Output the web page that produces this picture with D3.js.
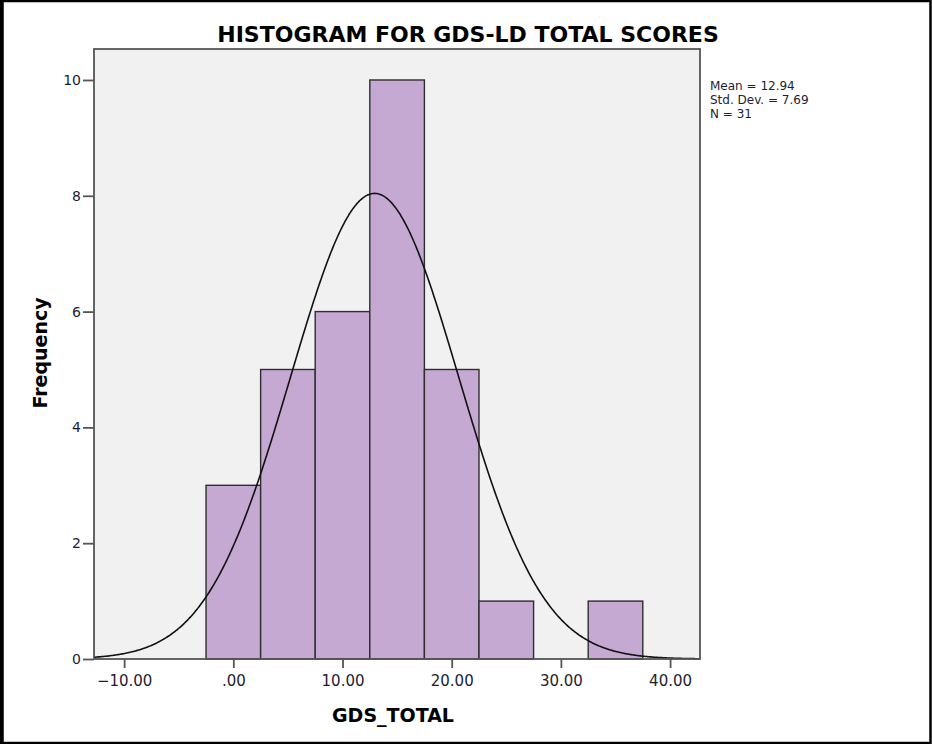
<!DOCTYPE html>
<html>
<head>
<meta charset="utf-8">
<script src="https://cdn.jsdelivr.net/npm/d3@7"></script>
<style>
  html, body { margin: 0; padding: 0; background: #fff; }
  svg { display: block; }
</style>
</head>
<body>
<svg id="chart" width="932" height="744"></svg>
<script>
// Histogram bins (lower edge, upper edge) and frequencies
const binStarts = [-2.5, 2.5, 7.5, 12.5, 17.5, 22.5, 27.5, 32.5];
const binEnds   = [2.5, 7.5, 12.5, 17.5, 22.5, 27.5, 32.5, 37.5];
const counts    = [3, 5, 6, 10, 5, 1, 0, 1];

const xTicks = [-10, 0, 10, 20, 30, 40];
const yTicks = [0, 2, 4, 6, 8, 10];

const stats = { mean: 12.94, sd: 7.69, n: 31 };
const statLines = ["Mean = 12.94", "Std. Dev. = 7.69", "N = 31"];

const svg = d3.select("#chart");
const W = 932, H = 744;

// outer frame
svg.append("rect").attr("x", 0).attr("y", 0).attr("width", W).attr("height", H).attr("fill", "#fff");
svg.append("rect").attr("x", 2.5).attr("y", 1).attr("width", W - 4).attr("height", H - 2)
  .attr("fill", "none").attr("stroke", "#000").attr("stroke-width", 2.5);
svg.append("line").attr("x1", 0).attr("x2", 0).attr("y1", 0).attr("y2", H)
  .attr("stroke", "#000").attr("stroke-width", 4);

const plot = { left: 94, right: 700, top: 49, bottom: 659 };

const x = d3.scaleLinear().domain([-12.76, 42.74]).range([plot.left, plot.right]);
const y = d3.scaleLinear().domain([0, 10.535]).range([plot.bottom, plot.top]);

// plot background
svg.append("rect")
  .attr("x", plot.left).attr("y", plot.top)
  .attr("width", plot.right - plot.left).attr("height", plot.bottom - plot.top)
  .attr("fill", "#f1f1f1");

// bars
const bins = counts.map((c, i) => ({ x0: binStarts[i], x1: binEnds[i], c }));
svg.append("g").selectAll("rect").data(bins.filter(d => d.c > 0)).join("rect")
  .attr("x", d => x(d.x0)).attr("y", d => y(d.c))
  .attr("width", d => x(d.x1) - x(d.x0)).attr("height", d => y(0) - y(d.c))
  .attr("fill", "#c5a9d3").attr("stroke", "#2e2e2e").attr("stroke-width", 1.4);

// normal curve scaled to counts
const binWidth = binEnds[0] - binStarts[0];
const scaleK = stats.n * binWidth / (stats.sd * Math.sqrt(2 * Math.PI));
const curvePts = d3.range(x.domain()[0], x.domain()[1] + 0.01, 0.1)
  .map(v => [v, scaleK * Math.exp(-0.5 * Math.pow((v - stats.mean) / stats.sd, 2))]);
svg.append("path").datum(curvePts)
  .attr("d", d3.line().x(d => x(d[0])).y(d => y(d[1])).curve(d3.curveBasis))
  .attr("fill", "none").attr("stroke", "#111").attr("stroke-width", 1.6);

// plot frame
svg.append("rect")
  .attr("x", plot.left).attr("y", plot.top)
  .attr("width", plot.right - plot.left).attr("height", plot.bottom - plot.top)
  .attr("fill", "none").attr("stroke", "#555").attr("stroke-width", 1.8);

// axes
const fmtX = v => v === 0 ? ".00" : d3.format(".2f")(v).replace("-", "\u2212");
const xAxis = d3.axisBottom(x).tickValues(xTicks).tickFormat(fmtX).tickSize(9).tickPadding(4);
const gx = svg.append("g").attr("transform", `translate(0,${plot.bottom})`).call(xAxis);
gx.select(".domain").remove();
gx.selectAll(".tick line").attr("stroke", "#555").attr("stroke-width", 1.8);
gx.selectAll(".tick text").attr("font-family", "DejaVu Sans, sans-serif").attr("font-size", 15)
  .attr("fill", "#1d1d33").attr("dy", "0.9em");

const yAxis = d3.axisLeft(y).tickValues(yTicks).tickFormat(d3.format("d")).tickSize(11).tickPadding(2);
const gy = svg.append("g").attr("transform", `translate(${plot.left},0)`).call(yAxis);
gy.select(".domain").remove();
gy.selectAll(".tick line").attr("stroke", "#555").attr("stroke-width", 1.8);
gy.selectAll(".tick text").attr("font-family", "DejaVu Sans, sans-serif").attr("font-size", 14)
  .attr("fill", "#1d1d33");

// title
svg.append("text").attr("x", 468).attr("y", 42).attr("text-anchor", "middle")
  .attr("font-family", "DejaVu Sans, sans-serif")
  .attr("font-weight", "bold").attr("font-size", 22).attr("fill", "#000")
  .text("HISTOGRAM FOR GDS-LD TOTAL SCORES");

// axis titles
svg.append("text").attr("x", 393).attr("y", 722).attr("text-anchor", "middle")
  .attr("font-family", "DejaVu Sans, sans-serif").attr("font-weight", "bold")
  .attr("font-size", 19).attr("fill", "#000").text("GDS_TOTAL");

svg.append("text").attr("transform", "translate(47,353) rotate(-90)").attr("text-anchor", "middle")
  .attr("font-family", "DejaVu Sans, sans-serif").attr("font-weight", "bold")
  .attr("font-size", 19).attr("fill", "#000").text("Frequency");

// summary statistics
svg.append("g").selectAll("text").data(statLines).join("text")
  .attr("x", 710).attr("y", (d, i) => 90 + i * 14)
  .attr("font-family", "DejaVu Sans, sans-serif").attr("font-size", 12)
  .attr("fill", "#1d1d33").text(d => d);
</script>
</body>
</html>
